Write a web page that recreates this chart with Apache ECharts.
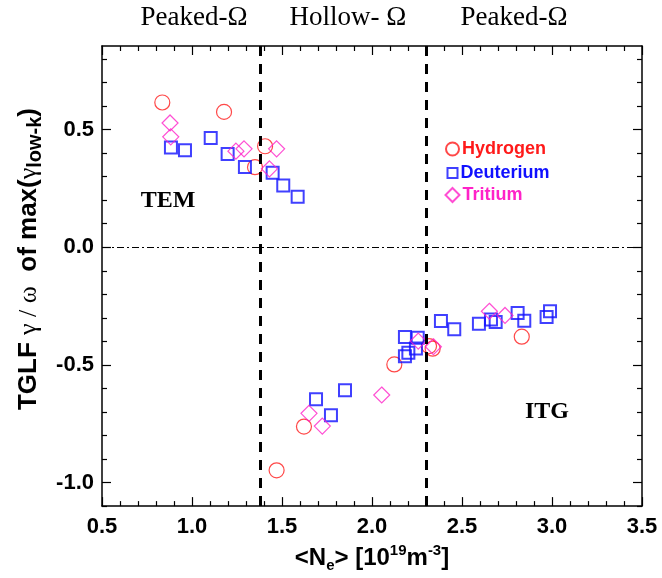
<!DOCTYPE html>
<html>
<head>
<meta charset="utf-8">
<script src="https://cdn.jsdelivr.net/npm/echarts@6/dist/echarts.min.js"></script>
<style>html,body{margin:0;padding:0;background:#fff;}#c{width:662px;height:578px;}</style>
</head>
<body>
<div id="c"></div>
<script>
// ---- data ----
const hydrogen = [[0.835,0.615],[1.178,0.575],[1.406,0.429],[1.35,0.34],[1.47,-0.948],[1.622,-0.762],[2.124,-0.498],[2.317,-0.42],[2.337,-0.431],[2.832,-0.38]];
const deuterium = [[0.883,0.424],[0.961,0.412],[1.104,0.464],[1.198,0.396],[1.294,0.341],[1.448,0.316],[1.507,0.262],[1.587,0.214],
  [1.689,-0.646],[1.772,-0.714],[1.85,-0.608],[2.183,-0.382],[2.254,-0.385],[2.244,-0.43],[2.202,-0.448],[2.183,-0.463],
  [2.383,-0.314],[2.457,-0.349],[2.594,-0.325],[2.661,-0.307],[2.687,-0.318],[2.809,-0.279],[2.846,-0.312],[2.97,-0.297],[2.989,-0.272]];
const tritium = [[0.878,0.528],[0.882,0.469],[1.244,0.408],[1.289,0.418],[1.47,0.418],[1.43,0.333],[1.65,-0.706],[1.724,-0.76],[2.054,-0.628],
  [2.257,-0.399],[2.341,-0.423],[2.652,-0.272],[2.739,-0.29]];
const regionLines = [1.38, 2.3];
const zeroLine = 0;
const xTicks = [0.5,1.0,1.5,2.0,2.5,3.0,3.5];
const yTicks = [-1.0,-0.5,0.0,0.5];
const yMinorTicks = [-1.1,-0.9,-0.8,-0.7,-0.6,-0.4,-0.3,-0.2,-0.1,0.1,0.2,0.3,0.4,0.6,0.7,0.8];
const regionLabels = ['Peaked-\u03A9','Hollow- \u03A9','Peaked-\u03A9'];
const modeLabels = ['TEM','ITG'];
const seriesNames = ['Hydrogen','Deuterium','Tritium'];
// ---- chart ----
const RED='#ff1a1a', BLUE='#1010ff', MAG='#ff22c8';
const SANS='"Liberation Sans", Arial, sans-serif';
const SERIF='"Liberation Serif", "Times New Roman", serif';
const chart = echarts.init(document.getElementById('c'), null, {renderer:'canvas'});
const tickLbl = {fontFamily:SANS, fontWeight:'bold', fontSize:22, color:'#000'};
function boxLine(){ return {show:true, onZero:false, lineStyle:{color:'#000', width:1.5}}; }
function yAx(pos, labels, major){
  return {type:'value', min:-1.1, max:0.855, position:pos,
    axisLine: major ? boxLine() : {show:false, onZero:false},
    splitLine:{show:false},
    axisTick:{show:true, inside:true, length: major?9:5, lineStyle:{color:'#000',width:1.2}, customValues: major?yTicks:yMinorTicks},
    axisLabel: labels ? Object.assign({show:true, customValues:yTicks, margin:8, formatter:v=>v.toFixed(1)}, tickLbl) : {show:false}
  };
}
const yName = '{b|TGLF }{g|\u03B3 / \u03C9}{b|  of max(}{g|\u03B3}{s|low-k}{b|)}';
const y0 = yAx('left', true, true);
y0.name = yName; y0.nameLocation='middle'; y0.nameGap=56; y0.nameRotate=90;
y0.nameTextStyle = {padding:[0,0,0,34], rich:{
  b:{fontFamily:SANS, fontWeight:'bold', fontSize:26, color:'#000', lineHeight:32},
  g:{fontFamily:SERIF, fontSize:26, color:'#000', lineHeight:32},
  s:{fontFamily:SANS, fontWeight:'bold', fontSize:20, color:'#000', verticalAlign:'bottom', lineHeight:24}
}};
function xAx(pos, labels){
  return {type:'value', min:0.5, max:3.5, interval:0.5, position:pos,
    axisLine: boxLine(), splitLine:{show:false},
    axisTick:{show:true, inside:true, length:9, lineStyle:{color:'#000',width:1.2}},
    minorTick:{show:true, splitNumber:5, length:5, lineStyle:{color:'#000',width:1.2}},
    axisLabel: labels ? Object.assign({show:true, margin:10, formatter:v=>v.toFixed(1)}, tickLbl) : {show:false}
  };
}
const x0 = xAx('bottom', true);
x0.name = '{b|<N}{sub|e}{b|> [10}{sup|19}{b|m}{sup|-3}{b|]}';
x0.nameLocation='middle'; x0.nameGap=34;
x0.nameTextStyle = {rich:{
  b:{fontFamily:SANS, fontWeight:'bold', fontSize:24, color:'#000', lineHeight:30},
  sub:{fontFamily:SANS, fontWeight:'bold', fontSize:15, color:'#000', verticalAlign:'bottom', lineHeight:22},
  sup:{fontFamily:SANS, fontWeight:'bold', fontSize:15, color:'#000', verticalAlign:'top', lineHeight:20}
}};
function legend(i, color, icon, w, h, top){
  return {show:true, orient:'vertical', left:440 - (w-13)/2, top:top, itemWidth:w, itemHeight:h, itemGap:4,
    selectedMode:false, data:[{name:seriesNames[i], icon:icon, textStyle:{color:color}}],
    textStyle:{fontFamily:SANS, fontWeight:'bold', fontSize:18, color:color, padding:[0,0,0,-2]}};
}
const option = {
  animation:false,
  backgroundColor:'#fff',
  grid:{left:102, right:20, top:46, bottom:70, containLabel:false},
  xAxis:[x0, xAx('top', false)],
  yAxis:[y0, yAx('left', false, false), yAx('right', false, true), yAx('right', false, false)],
  legend:[legend(0, RED, 'circle', 13, 13, 135), legend(1, BLUE, 'rect', 10, 10, 159), legend(2, MAG, 'diamond', 14, 14, 181)],
  series:[
    {name:seriesNames[0], type:'scatter', data:hydrogen, symbol:'circle', symbolSize:15,
      itemStyle:{color:'rgba(0,0,0,0)', borderColor:RED, borderWidth:1.2},
      markLine:{silent:true, symbol:['none','none'], label:{show:false},
        data:[
          {xAxis:regionLines[0], lineStyle:{type:[10,8], width:3, color:'#000'}},
          {xAxis:regionLines[1], lineStyle:{type:[10,8], width:3, color:'#000'}},
          {yAxis:zeroLine, lineStyle:{type:[7,3,2,3], width:1, color:'#000'}}
        ]}
    },
    {name:seriesNames[1], type:'scatter', data:deuterium, symbol:'rect', symbolSize:12,
      itemStyle:{color:'rgba(0,0,0,0)', borderColor:BLUE, borderWidth:2}},
    {name:seriesNames[2], type:'scatter', data:tritium, symbol:'diamond', symbolSize:16,
      itemStyle:{color:'rgba(0,0,0,0)', borderColor:MAG, borderWidth:1.2}}
  ],
  graphic:[
    {type:'text', style:{text:regionLabels[0], x:194, y:18, align:'center', verticalAlign:'middle', fontFamily:SERIF, fontSize:27, fill:'#000'}},
    {type:'text', style:{text:regionLabels[1], x:348, y:18, align:'center', verticalAlign:'middle', fontFamily:SERIF, fontSize:27, fill:'#000'}},
    {type:'text', style:{text:regionLabels[2], x:514, y:18, align:'center', verticalAlign:'middle', fontFamily:SERIF, fontSize:27, fill:'#000'}},
    {type:'text', style:{text:modeLabels[0], x:168, y:201, align:'center', verticalAlign:'middle', fontFamily:SERIF, fontWeight:'bold', fontSize:24, fill:'#000'}},
    {type:'text', style:{text:modeLabels[1], x:547, y:412, align:'center', verticalAlign:'middle', fontFamily:SERIF, fontWeight:'bold', fontSize:24, fill:'#000'}}
  ]
};
chart.setOption(option);
</script>
</body>
</html>
